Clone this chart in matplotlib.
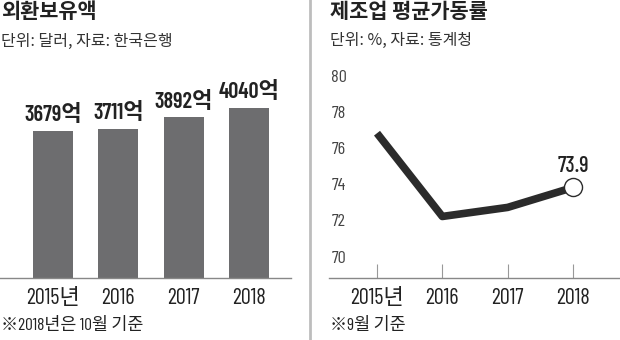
import matplotlib.pyplot as plt

plt.rcParams['font.family'] = ['Barlow Condensed', 'Liberation Sans Narrow',
                               'Noto Sans CJK KR', 'DejaVu Sans']
kr = ['Noto Sans CJK KR', 'DejaVu Sans']

# 외환보유액 (억 달러)
years = ['2015년', '2016', '2017', '2018']
reserves = [3679, 3711, 3892, 4040]

# 제조업 평균가동률 (%)
util = [76.9, 72.3, 72.8, 73.9]
util_ticks = [70, 72, 74, 76, 78, 80]

W, H = 620, 340
fig = plt.figure(figsize=(W / 100, H / 100), dpi=100)


def box(x0, y0, x1, y1):
    # pixel box (top-left origin) -> figure fraction
    return [x0 / W, 1 - y1 / H, (x1 - x0) / W, (y1 - y0) / H]


ink = '#222222'
bar_color = '#6d6d6f'

# left panel: bars
ax1 = fig.add_axes(box(0, 60, 291, 278))
x = list(range(len(years)))
ax1.bar(x, reserves, width=0.61, color=bar_color)
for xi, v in zip(x, reserves):
    ax1.annotate(f'{v}억', (xi, v), xytext=(0, 4), textcoords='offset points',
                 ha='center', va='bottom', fontsize=16, fontweight=600, color=ink)
ax1.set_xlim(-0.81, 3.64)
ax1.set_ylim(1372, 1372 + 218 / 0.0637)
ax1.set_xticks(x)
ax1.set_xticklabels(years, fontsize=16, color=ink)
ax1.tick_params(axis='x', length=0, pad=7)
ax1.set_yticks([])
for s in ['top', 'right', 'left']:
    ax1.spines[s].set_visible(False)
ax1.spines['bottom'].set_color('#888888')
ax1.spines['bottom'].set_linewidth(1)

# right panel: line
ax2 = fig.add_axes(box(329, 60, 620, 278))
ax2.plot(x, util, color='#2b2b2b', lw=5.5, solid_capstyle='butt', zorder=2)
ax2.plot(x[-1], util[-1], 'o', ms=13, mfc='white', mec='#2b2b2b', mew=1, zorder=3)
ax2.annotate(f'{util[-1]}', (x[-1], util[-1]), xytext=(0, 8), textcoords='offset points',
             ha='center', va='bottom', fontsize=16, fontweight=500, color=ink)
ax2.set_xlim(-0.735, 3.72)
ax2.set_ylim(68.9, 68.9 + 218 / 18.1)
ax2.set_xticks(x)
ax2.set_xticklabels(years, fontsize=16, color=ink)
ax2.tick_params(axis='x', direction='in', length=10, color='#999999', pad=7)
ax2.set_yticks([])
for t in util_ticks:
    ax2.text(0.008, t, str(t), transform=ax2.get_yaxis_transform(),
             ha='left', va='center', fontsize=13, color='#444444')
for s in ['top', 'right', 'left']:
    ax2.spines[s].set_visible(False)
ax2.spines['bottom'].set_color('#888888')
ax2.spines['bottom'].set_linewidth(1)

# divider between panels
fig.add_artist(plt.Line2D([310 / W, 310 / W], [0, 1], color='#bdbdbd', lw=2))


# titles, sources and notes
def label(px, py, s, color=ink, **kw):
    fig.text(px / W, 1 - py / H, s, ha='left', va='center', color=color, **kw)


label(1, 12, '외환보유액', fontsize=15, fontweight='bold', family=kr)
label(1, 41, '단위: 달러, 자료: 한국은행', fontsize=11.5, color='#333333', family=kr)
label(1, 325, '※2018년은 10월 기준', fontsize=12.5)

label(330, 12, '제조업 평균가동률', fontsize=15, fontweight='bold', family=kr)
label(330, 40, '단위: %, 자료: 통계청', fontsize=11.5, color='#333333', family=kr)
label(330, 325, '※9월 기준', fontsize=12.5)

fig.savefig('out.png', dpi=100, facecolor='white')
